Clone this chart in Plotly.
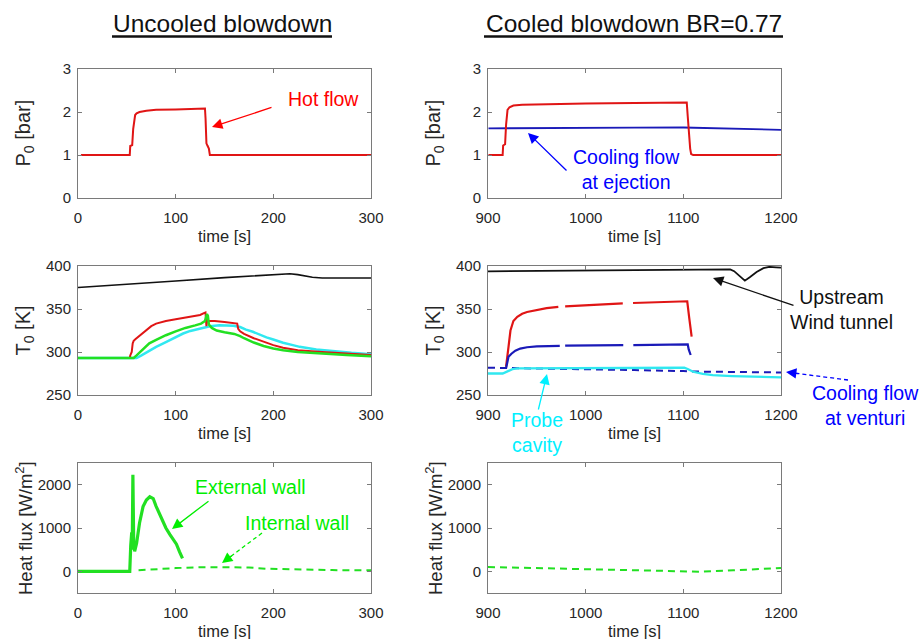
import math
import plotly.graph_objects as go

# ---------------- data ----------------
# Top-left: P0 hot flow, uncooled blowdown
t_p0_hot_L = [3, 53, 53.5, 55.5, 56.5, 57.5, 58.5, 60, 63, 70, 80, 100, 120, 130, 130.6, 131.5, 132.5, 134, 135, 200, 300]
p0_hot_L = [1.0, 1.0, 1.21, 1.23, 1.6, 1.85, 1.93, 1.97, 2.0, 2.03, 2.05, 2.06, 2.07, 2.08, 1.85, 1.27, 1.22, 1.15, 1.0, 1.0, 1.0]

# Top-right: P0 hot flow and cooling flow at ejection
t_p0_hot_R = [900.5, 915, 915.5, 917.5, 918.5, 920, 922, 926, 935, 950, 1000, 1050, 1100, 1103.5, 1104.5, 1106, 1107, 1108, 1110, 1200]
p0_hot_R = [1.0, 1.0, 1.22, 1.25, 1.7, 2.05, 2.11, 2.15, 2.17, 2.18, 2.2, 2.21, 2.22, 2.22, 1.9, 1.4, 1.15, 1.02, 1.0, 1.0]
t_p0_cool_R = [900.5, 950, 1000, 1050, 1100, 1120, 1150, 1200]
p0_cool_R = [1.62, 1.62, 1.63, 1.635, 1.64, 1.63, 1.6, 1.585]

# Middle-left: T0 uncooled
t_T_up_L = [0, 50, 100, 150, 200, 217, 225, 240, 250, 300]
T_up_L = [375, 378.5, 382.5, 386.5, 389.5, 391, 390, 387, 386, 386]
t_T_red_L = [0, 53, 53.5, 55, 56, 57, 59, 62, 66, 70, 75, 80, 90, 100, 110, 120, 125, 129.5, 130.5, 131.5, 132.5, 133.5,
             140, 150, 160, 163, 164, 166, 170, 180, 190, 200, 210, 225, 250, 275, 300]
T_red_L = [293, 293, 296, 300, 310, 313, 315, 318, 322, 326, 330, 333, 336, 338, 340, 342, 343, 345.5, 346, 330, 339, 336,
           336, 335, 334, 333, 327, 324, 321, 316, 312, 308, 305, 302, 300, 298, 296.5]
t_T_grn_L = [0, 57, 60, 63, 68, 73, 80, 90, 100, 110, 120, 126, 130, 132, 133, 134, 137, 142, 150, 160, 166, 170, 180, 190,
             200, 210, 225, 250, 275, 300]
T_grn_L = [293, 293, 296, 299.5, 305, 310, 314, 319.5, 324, 328, 331, 333, 336, 344, 342, 332, 328, 325, 323, 321, 318.5,
           316, 311, 307, 304, 302, 300, 298, 296.5, 295]
t_T_cyan_L = [0, 60, 65, 73.5, 80, 90, 100, 107.6, 115, 124.7, 135, 145, 159, 166, 172, 179, 186, 193, 200, 210, 220, 227,
              244, 261, 280, 300]
T_cyan_L = [293, 293, 296, 302, 306, 311.5, 317.5, 321.5, 324.5, 327, 330, 331, 330.5, 329, 326, 323.5, 320, 317, 314.5,
            310.7, 308, 306, 303, 301, 299, 297.5]

# Middle-right: T0 cooled (None = missing samples)
t_T_up_R = [900, 950, 1000, 1050, 1100, 1148, 1152, 1158, 1163, 1168, 1175, 1182, 1188, 1195, 1200]
T_up_R = [393.8, 394.3, 394.8, 395.3, 395.8, 396, 394, 388, 383, 387, 393, 397.5, 399, 398.5, 398]
t_T_red_R = [918.5, 919.5, 921, 923, 926, 930, 935, 940, 950, 960, 972, None,
             979, 1000, 1020, 1038, None,
             1048.5, 1070, 1090, 1104, 1106, 1108.5]
T_red_R = [283, 290, 306, 325, 336, 341, 344.5, 346.5, 349, 351, 352.5, None,
           353, 354.5, 355.5, 356.5, None,
           357, 357.5, 358.5, 359, 340, 318]
t_T_blue_R = [918.5, 919.5, 921, 924, 928, 933, 940, 950, 960, 973.5, None,
              979, 1000, 1020, 1038.5, None,
              1048.8, 1070, 1090, 1104.5, 1105.5, 1107.5]
T_blue_R = [281, 287, 294.5, 298, 301.5, 304, 305.5, 306.5, 307, 307.2, None,
            307.3, 307.6, 307.8, 308, None,
            308.1, 308.3, 308.5, 308.8, 303, 296.5]
t_T_vent_R = [900, 950, 1000, 1050, 1100, 1110, 1150, 1200]
T_vent_R = [281.7, 281, 280, 279, 277.8, 277.3, 276.8, 276.2]
t_T_cav_R = [900, 915, 920, 925, 930, 1000, 1050, 1101, 1105, 1110, 1120, 1130, 1150, 1175, 1200]
T_cav_R = [275, 275, 277.5, 280, 281, 281.5, 281.7, 281.7, 280, 277, 274.5, 273, 272, 271, 270.5]

# Bottom: heat flux
t_q_ext_L = [0, 20, 40, 53, 54, 55, 55.5, 56.2, 57, 58, 60, 63, 66.6, 70, 73.5, 77, 80, 84, 87, 90, 94, 100.8, 104, 107]
q_ext_L = [0, -5, 0, 0, 600, 900, 500, 2230, 700, 460, 650, 1117, 1494, 1645, 1720, 1680, 1500, 1300, 1117, 1000, 853,
           626, 450, 300]
t_q_int_L = [62, 80, 100, 125, 150, 175, 193, 210, 227, 260, 300]
q_int_L = [25, 55, 75, 95, 100, 90, 60, 50, 38, 28, 23]
t_q_int_R = [900, 947, 998, 1049, 1100, 1117, 1151, 1200]
q_int_R = [99, 76, 38, 23, 0, -8, 23, 76]

col_titles = ["Uncooled blowdown", "Cooled blowdown BR=0.77"]
y_titles = ["P<sub>0</sub> [bar]", "T<sub>0</sub> [K]", "Heat flux [W/m<sup>2</sup>]"]
x_title = "time [s]"
x_ranges = [[0, 300], [900, 1200]]
x_ticks = [[0, 100, 200, 300], [900, 1000, 1100, 1200]]
y_ranges = [[0, 3], [250, 400], [-500, 2500]]
y_ticks = [[0, 1, 2, 3], [250, 300, 350, 400], [0, 1000, 2000]]

# ---------------- styling / layout ----------------
W, H = 920, 639
FONT = "Liberation Sans, Arial, Helvetica, sans-serif"
RED, GREEN, CYAN, NAVY, BLACK = "#e01515", "#22e022", "#30e8f0", "#1a1ab8", "#111111"
COLS = [(78, 371), (488, 781)]
ROWS = [(69, 198), (266, 395), (463, 593)]


def fx(x):
    return x / W


def fy(y):
    return 1 - y / H


fig = go.Figure()
layout = dict(width=W, height=H, margin=dict(l=0, r=0, t=0, b=0, autoexpand=False), paper_bgcolor="white",
              plot_bgcolor="white", showlegend=False, font=dict(family=FONT, color="#262626"))

annotations = []
shapes = []
idx = 0
for r, (ytop, ybot) in enumerate(ROWS):
    for c, (xl, xr) in enumerate(COLS):
        idx += 1
        sfx = "" if idx == 1 else str(idx)
        common = dict(showline=True, mirror="allticks", linecolor="#7a7a7a", linewidth=1, ticks="inside",
                      ticklen=4, tickcolor="#7a7a7a", showgrid=False, zeroline=False, automargin=False,
                      tickfont=dict(family=FONT, size=15, color="#262626"))
        layout["xaxis" + sfx] = dict(common, domain=[fx(xl), fx(xr)], anchor="y" + sfx, range=x_ranges[c],
                                     tickvals=x_ticks[c], ticklabelstandoff=6)
        layout["yaxis" + sfx] = dict(common, domain=[fy(ybot), fy(ytop)], anchor="x" + sfx, range=y_ranges[r],
                                     tickvals=y_ticks[r], ticklabelstandoff=3)
        annotations.append(dict(text=x_title, x=fx((xl + xr) / 2), y=fy(ybot + 38), xref="paper", yref="paper",
                                showarrow=False, xanchor="center", yanchor="middle",
                                font=dict(family=FONT, size=16.5, color="#262626")))
        annotations.append(dict(text=y_titles[r], x=fx(xl - 54), y=fy((ytop + ybot) / 2), xref="paper",
                                yref="paper", showarrow=False, textangle=-90, xanchor="center", yanchor="middle",
                                font=dict(family=FONT, size=18.5 if r == 2 else 20, color="#262626")))


def add(x, y, ax, color, width, dash=None):
    fig.add_trace(go.Scatter(x=x, y=y, mode="lines", xaxis=ax[0], yaxis=ax[1], hoverinfo="skip",
                             line=dict(color=color, width=width, dash=dash)))


add(t_p0_hot_L, p0_hot_L, ("x", "y"), RED, 2)
add(t_p0_cool_R, p0_cool_R, ("x2", "y2"), NAVY, 1.8)
add(t_p0_hot_R, p0_hot_R, ("x2", "y2"), RED, 2)

add(t_T_up_L, T_up_L, ("x3", "y3"), BLACK, 1.6)
add(t_T_cyan_L, T_cyan_L, ("x3", "y3"), CYAN, 2.5)
add(t_T_red_L, T_red_L, ("x3", "y3"), RED, 2)
add(t_T_grn_L, T_grn_L, ("x3", "y3"), GREEN, 2.5)

add(t_T_up_R, T_up_R, ("x4", "y4"), BLACK, 1.8)
add(t_T_vent_R, T_vent_R, ("x4", "y4"), NAVY, 2, "7px,5px")
add(t_T_cav_R, T_cav_R, ("x4", "y4"), CYAN, 2.3)
add(t_T_red_R, T_red_R, ("x4", "y4"), RED, 2.2)
add(t_T_blue_R, T_blue_R, ("x4", "y4"), NAVY, 2.2)

add(t_q_ext_L, q_ext_L, ("x5", "y5"), GREEN, 3.2)
add(t_q_int_L, q_int_L, ("x5", "y5"), GREEN, 2, "7px,5px")
add(t_q_int_R, q_int_R, ("x6", "y6"), GREEN, 2, "7px,5px")

# column titles with underline
for (cx, x0, x1), txt in zip([(222, 112, 332), (633.5, 484, 783)], col_titles):
    annotations.append(dict(text=txt, x=fx(cx), y=fy(24), xref="paper", yref="paper", showarrow=False,
                            xanchor="center", yanchor="middle", font=dict(family=FONT, size=24.5, color="#111111")))
    shapes.append(dict(type="line", xref="paper", yref="paper", x0=fx(x0), x1=fx(x1), y0=fy(36.5), y1=fy(36.5),
                       line=dict(color="#111111", width=2.6)))

# labels
labels = [
    ("Hot flow", 323, 99, "#ff0000"),
    ("Cooling flow<br>at ejection", 626, 169, "#0000ff"),
    ("Upstream<br>Wind tunnel", 841, 309, "#111111"),
    ("Cooling flow<br>at venturi", 865, 405, "#0000ff"),
    ("Probe<br>cavity", 537, 432, "#00f0ff"),
    ("External wall", 251, 487, "#00ee00"),
    ("Internal wall", 297, 523, "#00ee00"),
]
for txt, x, y, col in labels:
    annotations.append(dict(text=txt, x=fx(x), y=fy(y), xref="paper", yref="paper", showarrow=False,
                            xanchor="center", yanchor="middle", font=dict(family=FONT, size=19.5, color=col)))

# arrows: (tail, head, color, dashed)
arrows = [
    ((273, 107), (212, 127), "#ff0000", False),
    ((568, 172), (528, 133), "#0000ff", False),
    ((795, 306), (713, 278), "#111111", False),
    ((538, 411), (547, 374), "#00f0ff", False),
    ((848, 380), (786, 372), "#0000ff", True),
    ((210, 500), (172, 529), "#00ee00", False),
    ((262, 533), (222, 563), "#00ee00", True),
]
for (tx, ty), (hx, hy), col, dashed in arrows:
    if dashed:
        L = math.hypot(tx - hx, ty - hy)
        ux, uy = (tx - hx) / L, (ty - hy) / L
        shapes.append(dict(type="line", xref="paper", yref="paper", x0=fx(tx), y0=fy(ty),
                           x1=fx(hx + ux * 10), y1=fy(hy + uy * 10), line=dict(color=col, width=1.3, dash="4px,3px")))
        annotations.append(dict(text="", x=fx(hx), y=fy(hy), xref="paper", yref="paper", showarrow=True,
                                ax=ux * 14, ay=uy * 14, arrowhead=2, arrowsize=1.6, arrowwidth=1.3, arrowcolor=col))
    else:
        annotations.append(dict(text="", x=fx(hx), y=fy(hy), xref="paper", yref="paper", showarrow=True,
                                ax=tx - hx, ay=ty - hy, arrowhead=2, arrowsize=1.6, arrowwidth=1.3, arrowcolor=col))

layout["annotations"] = annotations
layout["shapes"] = shapes
fig.update_layout(**layout)
fig.write_html("out.html", config={"displayModeBar": False},
               post_script="document.body.style.margin='0px';document.body.style.overflow='hidden';")
